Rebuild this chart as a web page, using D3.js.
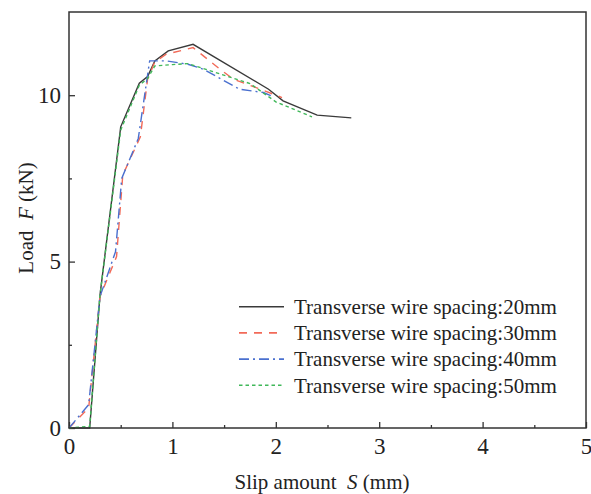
<!DOCTYPE html>
<html>
<head>
<meta charset="utf-8">
<script src="https://cdn.jsdelivr.net/npm/d3@7"></script>
<style>
    body { margin: 0; background: #fff; }
    text { font-family: 'Liberation Serif', 'Times New Roman', serif; fill: #222; }
</style>
</head>
<body>
<div id="chart"></div>
<script>
// slip S (mm), load F (kN)
var s20 = [0, 0.2, 0.3, 0.5, 0.68, 0.76, 0.83, 0.96, 1.2, 1.93, 2.07, 2.4, 2.73];
var f20 = [0, 0, 4.0, 9.05, 10.36, 10.56, 11.03, 11.33, 11.53, 10.18, 9.83, 9.4, 9.32];
var s30 = [0, 0.19, 0.3, 0.46, 0.52, 0.69, 0.76, 0.83, 0.94, 1.2, 1.46, 1.59, 1.85, 2.06];
var f30 = [0, 0.6, 3.95, 5.15, 7.6, 8.75, 10.48, 11.0, 11.23, 11.43, 10.78, 10.48, 10.18, 9.93];
var s40 = [0, 0.19, 0.3, 0.45, 0.51, 0.67, 0.78, 0.94, 1.15, 1.3, 1.65, 1.88, 1.98];
var f40 = [0, 0.7, 3.95, 5.3, 7.5, 8.7, 11.03, 11.03, 10.93, 10.78, 10.18, 10.08, 9.95];
var s50 = [0, 0.2, 0.3, 0.5, 0.68, 0.76, 0.83, 1.0, 1.15, 1.4, 1.75, 2.0, 2.35];
var f50 = [0, 0.05, 4.0, 8.95, 10.3, 10.5, 10.88, 10.92, 10.95, 10.7, 10.35, 9.8, 9.35];

var labels = [
    'Transverse wire spacing:20mm',
    'Transverse wire spacing:30mm',
    'Transverse wire spacing:40mm',
    'Transverse wire spacing:50mm'
];
var colors = ['#3a3a3a', '#f26a58', '#4a70cf', '#40b85a'];
var dashes = [null, '8,7', '10,4,2,4', '3.5,3'];

var xTicks = [0, 1, 2, 3, 4, 5];
var yTicks = [0, 5, 10];

var margin = { top: 12, right: 5, bottom: 66, left: 69 };
var width = 591 - margin.left - margin.right;
var height = 494 - margin.top - margin.bottom;

var x = d3.scaleLinear().domain([0, 5]).range([0, width]);
var y = d3.scaleLinear().domain([0, 12.5]).range([height, 0]);

var svg = d3
    .select('#chart')
    .append('svg')
    .attr('width', 591)
    .attr('height', 494);

var g = svg.append('g').attr('transform', `translate(${margin.left}, ${margin.top})`);

// minor ticks first, major ticks on top (both point inward)
var xMinor = d3.axisBottom(x).tickValues(d3.range(0.5, 5, 1)).tickSize(-3).tickFormat('');
var yMinor = d3.axisLeft(y).tickValues([2.5, 7.5]).tickSize(-3).tickFormat('');
var xAxis = d3.axisBottom(x).tickValues(xTicks).tickSize(-6).tickPadding(10).tickFormat(d3.format('d'));
var yAxis = d3.axisLeft(y).tickValues(yTicks).tickSize(-6).tickPadding(8).tickFormat(d3.format('d'));

g.append('g').attr('transform', `translate(0, ${height})`).call(xMinor);
g.append('g').call(yMinor);
g.append('g').attr('class', 'x-axis').attr('transform', `translate(0, ${height})`).call(xAxis);
g.append('g').attr('class', 'y-axis').call(yAxis);

g.selectAll('.domain').remove();
g.selectAll('.tick line').attr('stroke', '#333').attr('stroke-width', 1.3);
g.selectAll('.tick text').style('font-size', '23px').style('font-family', 'Liberation Serif').attr('fill', '#222');

var series = [[s20, f20], [s30, f30], [s40, f40], [s50, f50]];

var line = d3
    .line()
    .x(d => x(d[0]))
    .y(d => y(d[1]));

series.forEach(function (sr, i) {
    var pts = sr[0].map((s, k) => [s, sr[1][k]]);
    g.append('path')
        .datum(pts)
        .attr('fill', 'none')
        .attr('stroke', colors[i])
        .attr('stroke-width', 1.4)
        .attr('stroke-dasharray', dashes[i])
        .attr('d', line);
});

// frame
g.append('rect')
    .attr('width', width)
    .attr('height', height)
    .attr('fill', 'none')
    .attr('stroke', '#333')
    .attr('stroke-width', 1.5);

// legend
var legend = g.append('g').attr('transform', 'translate(170, 294.7)');
labels.forEach(function (lab, i) {
    var row = legend.append('g').attr('transform', `translate(0, ${i * 26.2})`);
    row.append('line')
        .attr('x1', 0)
        .attr('x2', 45)
        .attr('stroke', colors[i])
        .attr('stroke-width', 1.6)
        .attr('stroke-dasharray', dashes[i]);
    row.append('text')
        .attr('x', 55)
        .attr('dy', '0.35em')
        .style('font-size', '21px')
        .text(lab);
});

// axis titles (nbsp keeps the wide gap before the symbol)
var xt = svg.append('text')
    .attr('x', 322)
    .attr('y', 489)
    .attr('text-anchor', 'middle')
    .style('font-size', '21px');
xt.append('tspan').text('Slip amount\u00a0\u00a0');
xt.append('tspan').style('font-style', 'italic').text('S');
xt.append('tspan').text('\u00a0(mm)');

var yt = svg.append('text')
    .attr('transform', 'rotate(-90)')
    .attr('x', -218)
    .attr('y', 33)
    .attr('text-anchor', 'middle')
    .style('font-size', '21px');
yt.append('tspan').text('Load\u00a0\u00a0');
yt.append('tspan').style('font-style', 'italic').text('F');
yt.append('tspan').text('\u00a0(kN)');
</script>
</body>
</html>
